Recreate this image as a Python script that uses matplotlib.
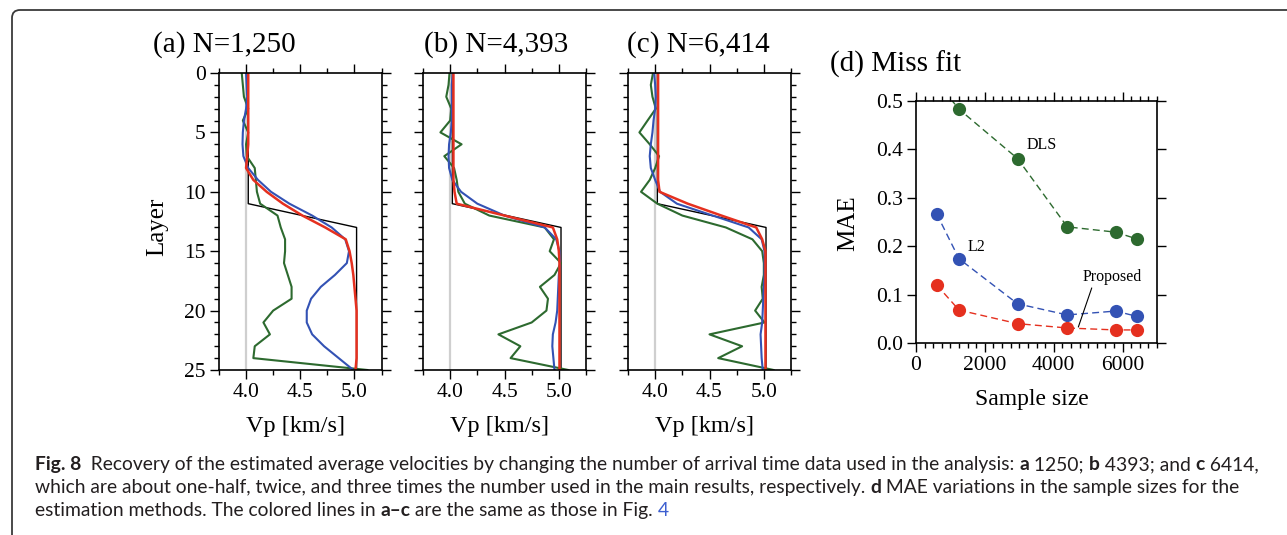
import matplotlib
matplotlib.use('Agg')
import matplotlib.pyplot as plt
import numpy as np
from matplotlib.path import Path
from matplotlib.patches import PathPatch
from matplotlib.ticker import MultipleLocator

# ---- data: velocity profiles (layers 0..25) ----
layers = np.arange(26)
true_depth = [0, 11, 13, 25]
true_vp = [4.02, 4.02, 5.02, 5.02]

green_a = [3.96, 3.97, 3.98, 4.02, 3.97, 4.02, 4.0, 4.006, 4.08, 4.09, 4.10, 4.13, 4.29,
           4.32, 4.36, 4.36, 4.35, 4.385, 4.42, 4.42, 4.25, 4.16, 4.22, 4.08, 4.067, 5.12]
blue_a = [4.0, 4.005, 4.01, 4.0, 3.98, 3.97, 3.967, 3.975, 4.02, 4.11, 4.23, 4.40, 4.61,
          4.79, 4.915, 4.95, 4.93, 4.82, 4.69, 4.60, 4.56, 4.56, 4.61, 4.72, 4.855, 4.99]
red_a = [4.02, 4.02, 4.02, 4.02, 4.02, 4.02, 4.02, 4.01, 4.0, 4.067, 4.19, 4.34, 4.52,
         4.73, 4.92, 4.955, 4.975, 4.99, 5.0, 5.01, 5.02, 5.02, 5.02, 5.02, 5.02, 5.01]

green_b = [3.994, 3.985, 3.964, 4.01, 4.0, 3.91, 4.105, 3.946, 4.036, 4.06, 4.075, 4.135, 4.36,
           4.87, 4.955, 4.916, 5.02, 4.96, 4.826, 4.90, 4.886, 4.75, 4.444, 4.646, 4.556, 5.087]
blue_b = [4.024, 4.015, 4.015, 4.015, 4.015, 4.006, 3.99, 3.985, 3.99, 4.02, 4.10, 4.25, 4.5,
          4.87, 4.976, 5.006, 5.01, 5.0, 4.995, 4.99, 4.985, 4.97, 4.945, 4.94, 4.95, 4.96]
red_b = [4.03, 4.03, 4.03, 4.03, 4.03, 4.03, 4.03, 4.03, 4.03, 4.03, 4.04, 4.06, 4.5,
         4.945, 4.985, 5.0, 5.006, 5.006, 5.006, 5.006, 5.006, 5.006, 5.006, 5.006, 5.006, 5.006]

green_c = [3.98, 3.96, 3.975, 4.006, 3.93, 3.855, 3.95, 4.036, 4.0, 3.95, 3.87, 4.02, 4.25,
           4.65, 4.895, 4.985, 5.0, 5.0, 4.98, 4.99, 4.92, 5.006, 4.5, 4.80, 4.58, 5.09]
blue_c = [3.99, 4.0, 4.006, 4.0, 3.985, 3.975, 3.96, 3.95, 3.96, 4.0, 4.045, 4.2, 4.53,
          4.86, 4.98, 5.006, 5.006, 5.006, 5.0, 4.995, 4.99, 4.985, 4.97, 4.975, 4.98, 4.99]
red_c = [4.027, 4.027, 4.027, 4.027, 4.027, 4.027, 4.027, 4.027, 4.027, 4.027, 4.04, 4.3, 4.61,
         4.93, 4.985, 5.015, 5.015, 5.015, 5.015, 5.015, 5.015, 5.015, 5.015, 5.015, 5.015, 5.015]

titles = ['(a) N=1,250', '(b) N=4,393', '(c) N=6,414']

# ---- data: miss fit ----
sample = [600, 1250, 2950, 4393, 5800, 6414]
mae_dls = [0.54, 0.483, 0.381, 0.240, 0.229, 0.215]
mae_l2 = [0.267, 0.174, 0.081, 0.058, 0.066, 0.055]
mae_prop = [0.120, 0.068, 0.040, 0.031, 0.027, 0.027]

GREEN = '#2d6a2f'
BLUE = '#3352b4'
RED = '#e5301f'

plt.rcParams['font.family'] = 'Liberation Serif'
plt.rcParams['axes.linewidth'] = 1.2

W, H = 1287, 535
fig = plt.figure(figsize=(W / 100, H / 100), dpi=100)


def px_axes(l, t, r, b):
    return fig.add_axes([l / W, 1 - b / H, (r - l) / W, (b - t) / H])


def style_ticks(ax):
    ax.tick_params(which='both', direction='out', top=True, right=True,
                   width=1.0, labelsize=15.5, pad=3, labelfontfamily='Liberation Serif')
    ax.tick_params(which='major', length=6.5)
    ax.tick_params(which='minor', length=3.5)


# ---- panels a-c ----
boxes = [(219, 381.5), (423, 586), (628, 791)]
title_x = [153, 424, 627]
label_cx = [295, 500, 704]
profiles = [(green_a, blue_a, red_a), (green_b, blue_b, red_b), (green_c, blue_c, red_c)]

for i, (l, r) in enumerate(boxes):
    ax = px_axes(l, 73, r, 370)
    g, b, rd = profiles[i]
    ax.axvline(4.0, color='#cfcfcf', lw=1.6, zorder=0)
    ax.plot(true_vp, true_depth, color='k', lw=1.0)
    ax.plot(g, layers, color=GREEN, lw=1.5)
    ax.plot(b, layers, color=BLUE, lw=1.5)
    ax.plot(rd, layers, color=RED, lw=1.8)
    ax.set_xlim(3.75, 5.25)
    ax.set_ylim(25, 0)
    ax.xaxis.set_major_locator(MultipleLocator(0.5))
    ax.xaxis.set_minor_locator(MultipleLocator(0.25))
    ax.yaxis.set_major_locator(MultipleLocator(5))
    ax.yaxis.set_minor_locator(MultipleLocator(1))
    ax.xaxis.set_major_formatter(lambda v, p: f'{v:.1f}')
    style_ticks(ax)
    if i > 0:
        ax.tick_params(labelleft=False)
    fig.text(title_x[i] / W, 1 - 52 / H, titles[i], fontsize=21, va='baseline', ha='left')
    fig.text(label_cx[i] / W, 1 - 432 / H, 'Vp [km/s]', fontsize=17.5, va='baseline', ha='center')

fig.text(157 / W, 1 - 227 / H, 'Layer', fontsize=18, rotation=90, va='center', ha='center')

# ---- panel d ----
axd = px_axes(916, 101, 1157, 343)
kw = dict(ls=(0, (5, 3)), lw=1.0, marker='o', ms=9.5, mew=0)
axd.plot(sample, mae_dls, color=GREEN, **kw)
axd.plot(sample, mae_l2, color=BLUE, **kw)
axd.plot(sample, mae_prop, color=RED, **kw)
axd.set_xlim(0, 7000)
axd.set_ylim(0, 0.5)
axd.xaxis.set_major_locator(MultipleLocator(2000))
axd.xaxis.set_minor_locator(MultipleLocator(250))
axd.yaxis.set_major_locator(MultipleLocator(0.1))
axd.yaxis.set_major_formatter(lambda v, p: f'{v:.1f}')
style_ticks(axd)
axd.tick_params(axis='y', which='minor', left=False, right=False)
axd.text(3645, 0.409, 'DLS', fontsize=11.5, ha='center', va='center')
axd.text(1770, 0.198, 'L2', fontsize=11.5, ha='center', va='center')
axd.annotate('Proposed', xy=(4715, 0.033), xytext=(5700, 0.136), fontsize=11.5,
             ha='center', va='center',
             arrowprops=dict(arrowstyle='-', lw=0.8, color='k', relpos=(0.17, 0.0),
                             shrinkA=0, shrinkB=0))
fig.text(830 / W, 1 - 72 / H, '(d) Miss fit', fontsize=21, va='baseline', ha='left')
fig.text(848 / W, 1 - 223 / H, 'MAE', fontsize=18, rotation=90, va='center', ha='center')
fig.text(1032 / W, 1 - 405 / H, 'Sample size', fontsize=17, va='baseline', ha='center')

# ---- frame (open rounded box) ----
rad = 8
verts = [(12, H), (12, 10 + rad), (12, 10), (12 + rad, 10), (W, 10)]
codes = [Path.MOVETO, Path.LINETO, Path.CURVE3, Path.CURVE3, Path.LINETO]
verts = [(x / W, 1 - y / H) for x, y in verts]
fig.patches.append(PathPatch(Path(verts, codes), transform=fig.transFigure,
                             fill=False, edgecolor='#3a3a3a', lw=1.3))

# ---- caption ----
cap_family = ['Lato', 'DejaVu Sans']
cap_color = '#231f20'
link_color = '#3d5fd0'
lines = [
    [('Fig. 8', 'bold', cap_color),
     ('  Recovery of the estimated average velocities by changing the number of arrival time data used in the analysis: ', 'normal', cap_color),
     ('a', 'bold', cap_color), (' 1250; ', 'normal', cap_color),
     ('b', 'bold', cap_color), (' 4393; and ', 'normal', cap_color),
     ('c', 'bold', cap_color), (' 6414,', 'normal', cap_color)],
    [('which are about one-half, twice, and three times the number used in the main results, respectively. ', 'normal', cap_color),
     ('d', 'bold', cap_color),
     (' MAE variations in the sample sizes for the', 'normal', cap_color)],
    [('estimation methods. The colored lines in ', 'normal', cap_color),
     ('a\u2013c', 'bold', cap_color),
     (' are the same as those in Fig. ', 'normal', cap_color),
     ('4', 'normal', link_color)],
]
baselines = [470, 493, 516]
renderer = fig.canvas.get_renderer()


def draw_line(runs, y, size):
    x = 35
    made = []
    for s, wt, col in runs:
        t = fig.text(x / W, 1 - y / H, s, fontsize=size, fontweight=wt, color=col,
                     family=cap_family, va='baseline', ha='left')
        made.append(t)
        x = t.get_window_extent(renderer).x1
    return x, made


size = 12
end, made = draw_line(lines[0], baselines[0], size)
for t in made:
    t.remove()
size = size * (1257 - 35) / (end - 35)
for runs, y in zip(lines, baselines):
    draw_line(runs, y, size)

fig.savefig('out.png', dpi=100)
